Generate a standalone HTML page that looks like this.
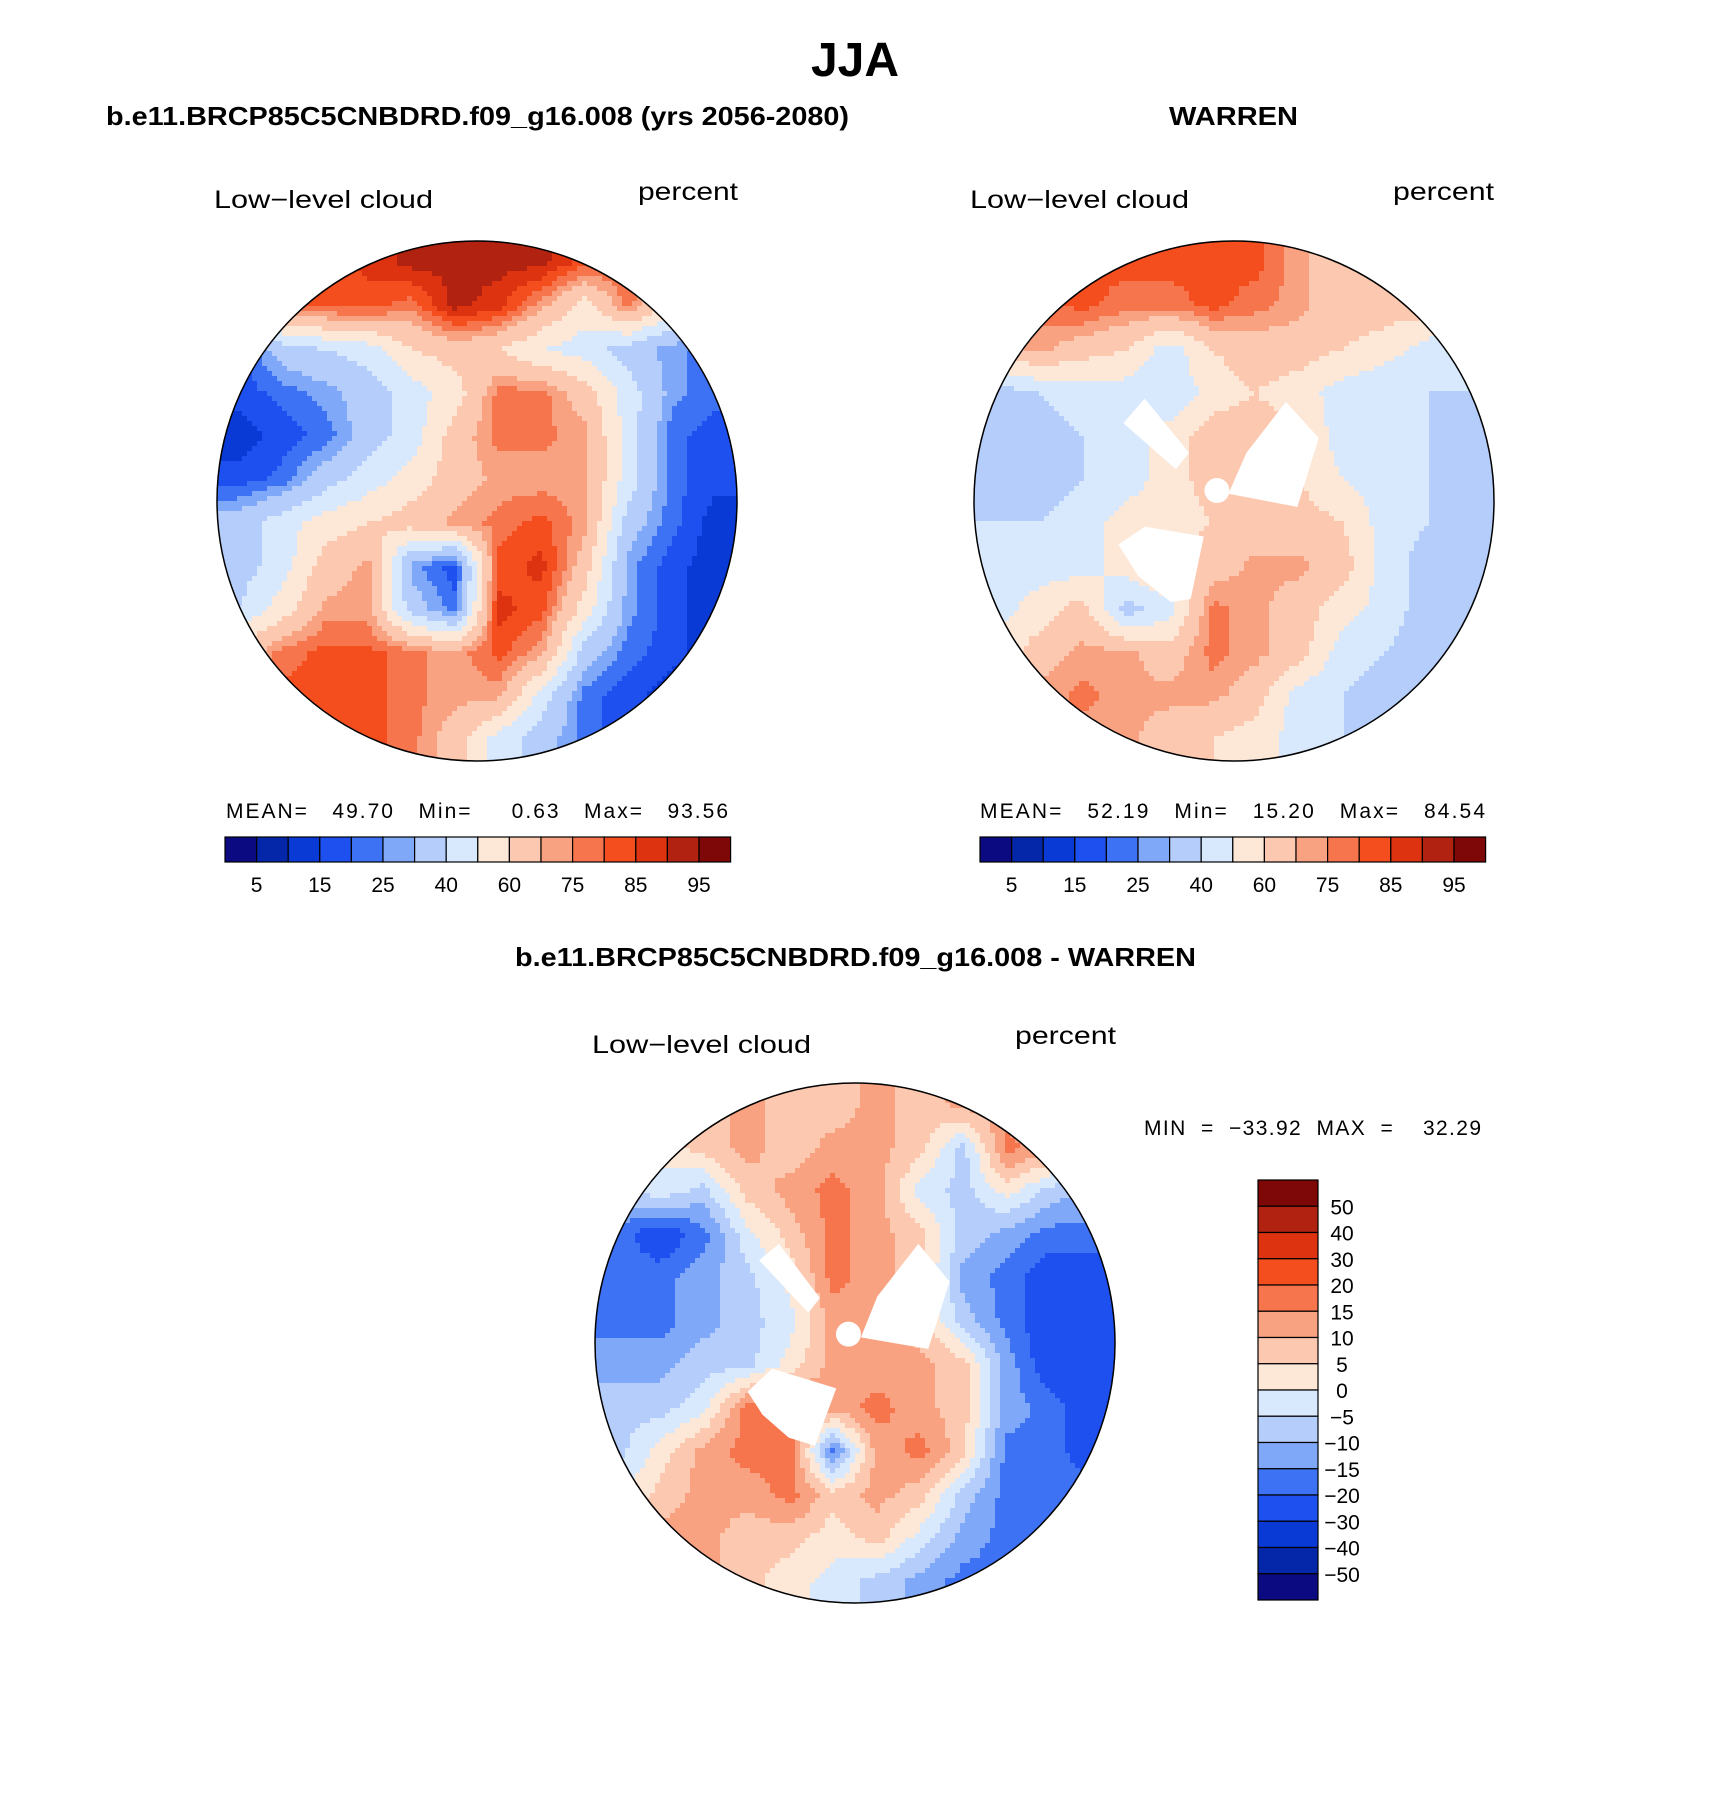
<!DOCTYPE html>
<html><head><meta charset="utf-8"><style>
html,body{margin:0;padding:0;background:#fff;}
svg{display:block;}
text{font-family:"Liberation Sans",sans-serif;fill:#000;}
</style></head><body>
<svg id="root" width="1710" height="1806" viewBox="0 0 1710 1806">
<defs>
<clipPath id="c1"><circle cx="477" cy="501" r="260"/></clipPath>
<clipPath id="c2"><circle cx="1234" cy="501" r="260"/></clipPath>
<clipPath id="c3"><circle cx="855" cy="1343" r="260"/></clipPath>
</defs>
<text x="855" y="76" font-size="48" font-weight="bold" text-anchor="middle">JJA</text>
<text x="106" y="125" font-size="26" font-weight="bold" textLength="743" lengthAdjust="spacingAndGlyphs">b.e11.BRCP85C5CNBDRD.f09_g16.008 (yrs 2056-2080)</text>
<text x="1169" y="125" font-size="26" font-weight="bold" textLength="129" lengthAdjust="spacingAndGlyphs">WARREN</text>
<text x="515" y="966" font-size="26" font-weight="bold" textLength="681" lengthAdjust="spacingAndGlyphs">b.e11.BRCP85C5CNBDRD.f09_g16.008 - WARREN</text>

<text x="214" y="208" font-size="25" textLength="219" lengthAdjust="spacingAndGlyphs">Low−level cloud</text>
<text x="638" y="200" font-size="25" textLength="100" lengthAdjust="spacingAndGlyphs">percent</text>
<text x="970" y="208" font-size="25" textLength="219" lengthAdjust="spacingAndGlyphs">Low−level cloud</text>
<text x="1393" y="200" font-size="25" textLength="101" lengthAdjust="spacingAndGlyphs">percent</text>
<text x="592" y="1053" font-size="25" textLength="219" lengthAdjust="spacingAndGlyphs">Low−level cloud</text>
<text x="1015" y="1044" font-size="25" textLength="101" lengthAdjust="spacingAndGlyphs">percent</text>

<text x="226" y="818" font-size="21" textLength="502" lengthAdjust="spacing" xml:space="preserve">MEAN=   49.70   Min=     0.63   Max=   93.56</text>
<text x="980" y="818" font-size="21" textLength="505" lengthAdjust="spacing" xml:space="preserve">MEAN=   52.19   Min=   15.20   Max=   84.54</text>
<text x="1144" y="1135" font-size="21" textLength="337" lengthAdjust="spacing" xml:space="preserve">MIN  =  −33.92  MAX  =    32.29</text>

<g id="map1" clip-path="url(#c1)"></g>
<g id="map2" clip-path="url(#c2)"></g>
<g id="map3" clip-path="url(#c3)"></g>

<g fill="#fff" transform="translate(974,241) scale(0.3283)">
<circle cx="740" cy="760" r="38"/>
<polygon points="520,480 655,645 615,695 455,555"/>
<polygon points="830,645 950,490 1050,600 985,810 775,770"/>
<polygon points="440,925 520,870 700,900 660,1090 600,1100 500,1020"/>
</g>
<g fill="#fff" transform="translate(595,1083) scale(0.3283)">
<circle cx="772" cy="765" r="38"/>
<polygon points="500,540 560,490 685,655 650,700"/>
<polygon points="860,650 985,490 1080,605 1015,810 810,775"/>
<polygon points="465,940 540,870 735,930 670,1105 590,1080 510,1010"/>
</g>

<circle cx="477" cy="501" r="260" fill="none" stroke="#000" stroke-width="1.5"/>
<circle cx="1234" cy="501" r="260" fill="none" stroke="#000" stroke-width="1.5"/>
<circle cx="855" cy="1343" r="260" fill="none" stroke="#000" stroke-width="1.5"/>

<g id="bar1"></g>
<g id="bar2"></g>
<g id="bar3"></g>
</svg>
<script>
const palette = ["#0b0a80","#0426a8","#0a3ad6","#1e50f0","#3d72f5","#80a8f8","#b4cdfb","#d8e9fd","#fde8d8","#fcc8b0","#f9a282","#f7754c","#f54e1e","#dd3310","#b22210","#7e0708"];
const levelsAbs = [5,10,15,20,25,30,40,50,60,70,75,80,85,90,95];
const tickAbs = ["5","15","25","40","60","75","85","95"];
const levelsDiff = [-50,-40,-30,-20,-15,-10,-5,0,5,10,15,20,30,40,50];
const tickDiff = ["50","40","30","20","15","10","5","0","−5","−10","−15","−20","−30","−40","−50"];

const gridLeft = [
[77,82,82,87,92,92,92,92,82,82,72,55],
[72,77,82,82,77,92,87,72,55,77,55,40],
[17,35,40,45,60,65,60,50,45,35,27,22],
[17,22,27,35,45,55,77,77,65,45,27,22],
[12,17,22,35,45,65,77,77,72,45,22,17],
[17,22,35,45,55,65,72,72,72,45,22,17],
[35,45,55,60,65,72,77,82,72,35,22,12],
[35,45,65,72,27,17,82,87,65,27,17,12],
[40,55,72,72,35,22,87,82,55,27,17,12],
[65,77,82,82,77,72,82,72,35,22,17,12],
[82,82,82,82,77,72,72,45,22,17,12,12],
[82,82,82,82,77,65,45,35,22,17,12,12]];
const gridRight = [
[77,82,82,82,82,82,82,72,65,65,65,55],
[72,77,82,77,77,82,77,72,65,65,65,45],
[65,72,65,60,45,60,65,65,60,55,45,40],
[35,40,45,45,40,55,60,55,45,40,40,40],
[30,35,40,45,55,65,65,60,45,40,40,35],
[30,35,40,45,55,65,65,60,50,45,40,35],
[40,40,45,55,55,60,65,65,60,45,40,35],
[45,45,45,55,65,65,72,72,65,45,35,30],
[45,55,65,35,45,77,72,65,55,45,35,30],
[55,65,72,72,65,77,72,65,45,40,35,30],
[65,72,77,72,72,72,65,45,40,35,30,27],
[72,72,72,72,65,60,55,45,40,35,30,27]];
const gridDiff = [
[2,7,7,12,7,7,12,7,12,12,7,2],
[-2,2,7,12,7,12,12,7,-7,17,12,-7],
[-7,-2,-7,7,12,17,12,-2,-7,2,-7,-12],
[-17,-25,-17,-2,7,17,12,7,-7,-12,-17,-17],
[-17,-17,-12,-7,2,17,12,7,-12,-17,-25,-25],
[-17,-17,-12,-7,-2,12,12,7,-7,-17,-25,-25],
[-12,-12,-7,-7,2,12,12,12,7,-12,-25,-25],
[-7,-7,-2,17,20,12,17,12,7,-12,-17,-25],
[-7,2,12,17,17,-17,12,17,7,-17,-17,-25],
[-2,7,12,12,17,7,12,7,-7,-17,-17,-17],
[7,12,12,7,7,2,7,-2,-12,-17,-17,-17],
[7,12,12,7,2,-2,-7,-12,-17,-17,-17,-17]];

const NS="http://www.w3.org/2000/svg";
function colorFor(v, levels){let i=0;while(i<levels.length&&v>=levels[i])i++;return palette[i];}
function sample(grid,gx,gy){
  const n=grid.length;
  gx=Math.max(0,Math.min(n-1,gx));gy=Math.max(0,Math.min(n-1,gy));
  const x0=Math.floor(gx),y0=Math.floor(gy),x1=Math.min(n-1,x0+1),y1=Math.min(n-1,y0+1);
  const fx=gx-x0,fy=gy-y0;
  return grid[y0][x0]*(1-fx)*(1-fy)+grid[y0][x1]*fx*(1-fy)+grid[y1][x0]*(1-fx)*fy+grid[y1][x1]*fx*fy;
}
function drawMap(id,grid,levels,ox,oy,size){
  const g=document.getElementById(id);
  const step=5, n=Math.ceil(size/step), cell=size/grid.length;
  for(let r=0;r<n;r++){
    let runStart=0,runCol=null;
    for(let c=0;c<=n;c++){
      let col=null;
      if(c<n){const px=(c+0.5)*step,py=(r+0.5)*step;col=colorFor(sample(grid,px/cell-0.5,py/cell-0.5),levels);}
      if(col!==runCol){
        if(runCol!==null){
          const rect=document.createElementNS(NS,'rect');
          rect.setAttribute('x',ox+runStart*step);rect.setAttribute('y',oy+r*step);
          rect.setAttribute('width',(c-runStart)*step+0.6);rect.setAttribute('height',step+0.6);
          rect.setAttribute('fill',runCol);
          
          
          g.appendChild(rect);
        }
        runStart=c;runCol=col;
      }
    }
  }
}
drawMap('map1',gridLeft,levelsAbs,217,241,520);
drawMap('map2',gridRight,levelsAbs,974,241,520);
drawMap('map3',gridDiff,levelsDiff,595,1083,520);

function hbar(id,x0,y0){
  const g=document.getElementById(id), w=31.6, h=25;
  palette.forEach((col,i)=>{
    const r=document.createElementNS(NS,'rect');
    r.setAttribute('x',x0+i*w);r.setAttribute('y',y0);r.setAttribute('width',w);r.setAttribute('height',h);
    r.setAttribute('fill',col);r.setAttribute('stroke','#000');r.setAttribute('stroke-width','1.2');
    
    
    g.appendChild(r);
  });
  tickAbs.forEach((t,k)=>{
    const tx=document.createElementNS(NS,'text');
    tx.setAttribute('x',x0+(2*k+1)*w);tx.setAttribute('y',y0+55);
    tx.setAttribute('font-size','21');tx.setAttribute('text-anchor','middle');
    tx.textContent=t;
    
    
    g.appendChild(tx);
  });
}
hbar('bar1',225,837);
hbar('bar2',980,837);

(function(){
  const g=document.getElementById('bar3'), x0=1258,y0=1180,w=60,h=420/16;
  const rev=palette.slice().reverse();
  rev.forEach((col,i)=>{
    const r=document.createElementNS(NS,'rect');
    r.setAttribute('x',x0);r.setAttribute('y',y0+i*h);r.setAttribute('width',w);r.setAttribute('height',h);
    r.setAttribute('fill',col);r.setAttribute('stroke','#000');r.setAttribute('stroke-width','1.2');
    
    
    g.appendChild(r);
  });
  tickDiff.forEach((t,k)=>{
    const tx=document.createElementNS(NS,'text');
    tx.setAttribute('x',1342);tx.setAttribute('y',y0+(k+1)*h+8);
    tx.setAttribute('font-size','21');tx.setAttribute('text-anchor','middle');
    tx.textContent=t;
    
    
    g.appendChild(tx);
  });
})();
</script>
</body></html>
